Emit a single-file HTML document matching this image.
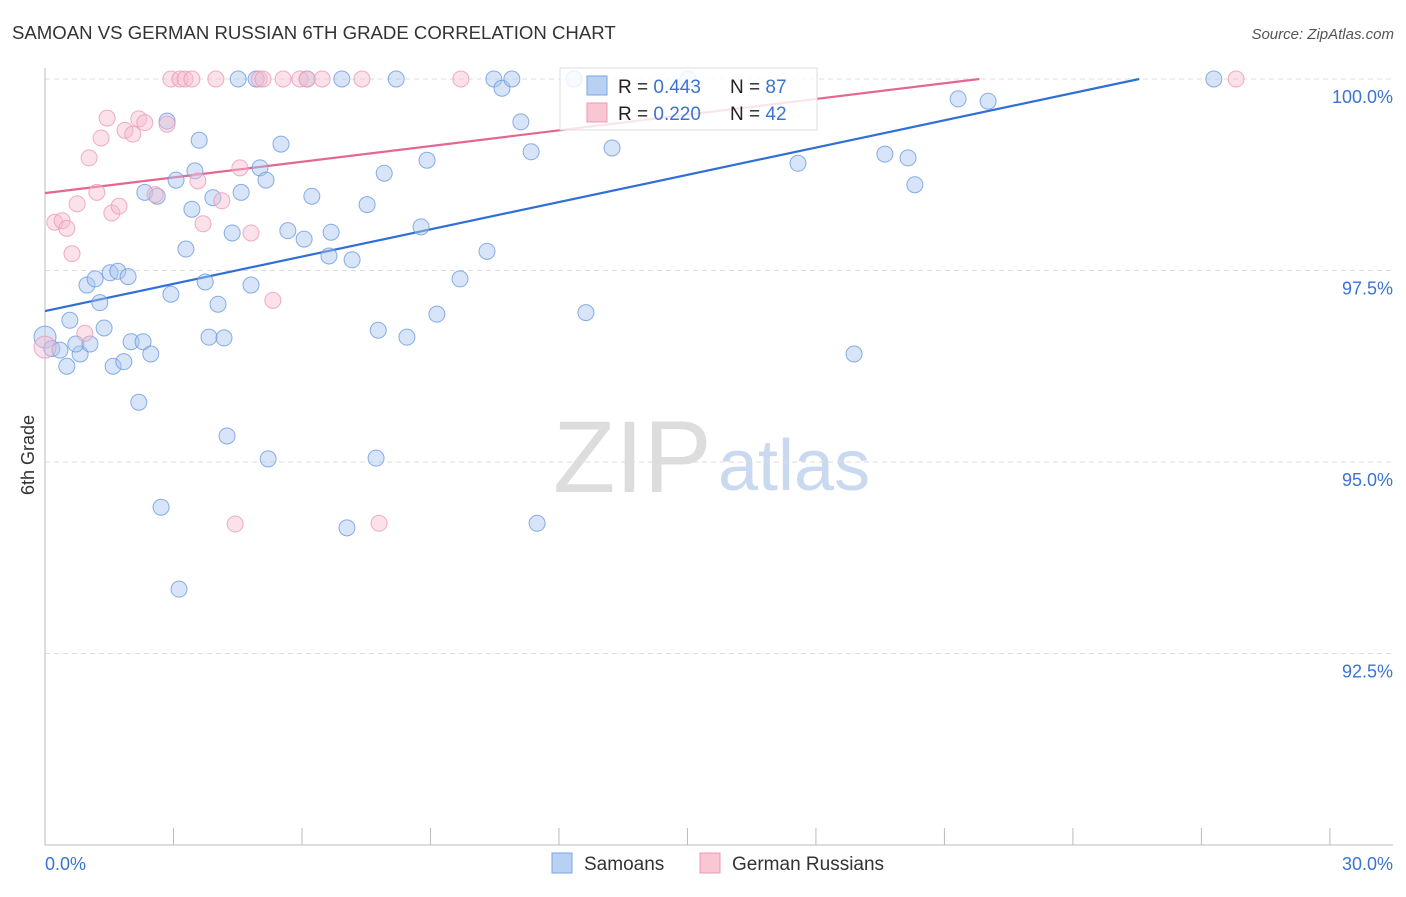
<!DOCTYPE html>
<html><head><meta charset="utf-8"><style>
body{margin:0;background:#fff;font-family:"Liberation Sans",sans-serif;}
svg text{font-family:"Liberation Sans",sans-serif;}
</style></head><body>
<svg id="chart" width="1406" height="892" xmlns="http://www.w3.org/2000/svg">
<text x="12" y="39" font-size="18.6" fill="#333">SAMOAN VS GERMAN RUSSIAN 6TH GRADE CORRELATION CHART</text>
<text x="1394" y="39" font-size="15" fill="#555" font-style="italic" text-anchor="end">Source: ZipAtlas.com</text>
<text transform="translate(34,455) rotate(-90)" font-size="18" fill="#333" text-anchor="middle">6th Grade</text>
<g><text x="553" y="492" font-size="102" fill="#ddd" font-family="Liberation Serif">ZIP</text><text x="718" y="490" font-size="72" fill="#c9d9f0">atlas</text></g>
<g id="grid"></g><g id="axes"></g><g id="lines"></g><g id="pts"></g>
<g>
<rect x="560" y="68" width="257" height="62" fill="#fff" fill-opacity="0.82" stroke="#ddd"/>
<rect x="587" y="76" width="20" height="19" fill="#b8d1f3" stroke="#7aa6e6"/>
<rect x="587" y="103" width="20" height="19" fill="#f9c6d4" stroke="#ee9ab2"/>
<text x="618" y="93" font-size="19" fill="#222">R = <tspan fill="#3a74d0">0.443</tspan></text>
<text x="730" y="93" font-size="19" fill="#222">N = <tspan fill="#3a74d0">87</tspan></text>
<text x="618" y="120" font-size="19" fill="#222">R = <tspan fill="#3a74d0">0.220</tspan></text>
<text x="730" y="120" font-size="19" fill="#222">N = <tspan fill="#3a74d0">42</tspan></text>
</g>
<g>
<rect x="552" y="853" width="20" height="20" fill="#b8d1f3" stroke="#7aa6e6"/>
<text x="584" y="870" font-size="19" fill="#333">Samoans</text>
<rect x="700" y="853" width="20" height="20" fill="#f9c6d4" stroke="#ee9ab2"/>
<text x="732" y="870" font-size="19" fill="#333">German Russians</text>
</g>
</svg>
<script>
const yTicks=[100,97.5,95,92.5];
const yTickLabels=["100.0%","97.5%","95.0%","92.5%"];
const xEndLabels=["0.0%","30.0%"];
const samoanX=[0,0.16,0.35,0.51,0.58,0.82,0.72,1.05,0.98,1.17,1.28,1.38,1.52,1.70,1.94,1.59,1.84,2.19,2.01,2.29,2.47,2.33,2.62,2.71,2.85,2.94,3.06,3.13,3.29,3.43,3.50,3.60,3.74,3.83,3.92,4.04,4.18,4.25,4.37,4.51,4.58,4.81,4.93,5.02,5.16,5.21,5.51,5.67,6.05,6.12,6.23,6.63,6.68,6.93,7.05,7.17,7.52,7.73,7.78,7.92,8.20,8.45,8.78,8.92,9.15,9.69,10.32,10.48,10.67,10.90,11.11,11.35,11.49,12.35,12.63,13.24,15.01,17.58,18.89,19.61,20.15,20.31,21.32,22.02,27.29];
const samoanY=[96.63,96.48,96.46,96.25,96.85,96.41,96.54,96.54,97.31,97.39,97.08,96.75,97.47,97.49,97.42,96.25,96.31,95.78,96.57,96.57,96.41,98.52,98.47,94.41,99.45,97.19,98.68,93.34,97.78,98.30,98.80,99.20,97.35,96.63,98.45,97.06,96.62,95.34,97.99,100,98.52,97.31,100,98.84,98.68,95.04,99.15,98.02,97.91,100,98.47,97.69,98.0,100,94.14,97.64,98.36,95.05,96.72,98.77,100,96.63,98.07,98.94,96.93,97.39,97.75,100,99.88,100,99.44,99.05,94.2,100,96.95,99.10,100,98.90,96.41,99.02,98.97,98.62,99.74,99.71,100];
const germanX=[0,0.23,0.40,0.51,0.63,0.75,0.93,1.03,1.21,1.31,1.45,1.56,1.73,1.87,2.05,2.19,2.33,2.57,2.85,2.94,3.15,3.27,3.43,3.57,3.69,3.99,4.13,4.44,4.55,4.81,5.00,5.09,5.32,5.56,5.95,6.12,6.47,7.40,7.80,9.71,27.81];
const germanY=[96.5,98.13,98.15,98.05,97.72,98.37,96.68,98.97,98.52,99.23,99.49,98.25,98.34,99.33,99.28,99.48,99.43,98.49,99.41,100,100,100,100,98.67,98.11,100,98.41,94.19,98.84,97.99,100,100,97.11,100,100,100,100,100,94.2,100,100];
const samoanTrend=[96.97,0.1186];
const germanTrend=[98.51,0.0683];
const NS="http://www.w3.org/2000/svg";
const sx=v=>45+v*42.83, sy=v=>79+(100-v)*76.6;
function mk(p,t,a){const e=document.createElementNS(NS,t);for(const k in a)e.setAttribute(k,a[k]);document.getElementById(p).appendChild(e);return e;}
yTicks.forEach((t,i)=>{
 const l=mk('grid','line',{x1:45,x2:1393,y1:sy(t),y2:sy(t),stroke:'#ddd','stroke-dasharray':'5,4'});
 
 
 const tx=mk('grid','text',{x:1393,y:sy(t)+24,'font-size':18,fill:'#3a74d0','text-anchor':'end'});
 tx.textContent=yTickLabels[i];
 
 
});
const ax=mk('axes','line',{x1:45,x2:45,y1:68,y2:845,stroke:'#bbb'});


const bx=mk('axes','line',{x1:45,x2:1393,y1:845,y2:845,stroke:'#bbb'});


for(let i=1;i<=10;i++){const t=mk('axes','line',{x1:sx(i*3),x2:sx(i*3),y1:828,y2:845,stroke:'#bbb'});
 
 }
[[45,'start',0],[1393,'end',1]].forEach(([x,a,i])=>{const t=mk('axes','text',{x:x,y:870,'font-size':18,fill:'#3a74d0','text-anchor':a});t.textContent=xEndLabels[i];
 
 });
function trend(tr,col,name){const x2=Math.min(30,(100-tr[0])/tr[1]);
 const l=mk('lines','line',{x1:sx(0),y1:sy(tr[0]),x2:sx(x2),y2:sy(tr[0]+tr[1]*x2),stroke:col,'stroke-width':2.2});
 
 }
trend(samoanTrend,'#2f6fd6','samoan-trendline');
trend(germanTrend,'#e5678f','german-russian-trendline');
function pts(X,Y,f,s,name){X.forEach((x,i)=>{const c=mk('pts','circle',{cx:sx(x),cy:sy(Y[i]),r:i==0?11:8,fill:f,'fill-opacity':0.45,stroke:s,'stroke-opacity':0.8});
 
 });}
pts(samoanX,samoanY,'#a9c6f0','#6d9ae0','samoan-point');
pts(germanX,germanY,'#f7bcd0','#ec9ab5','german-russian-point');
</script>
</body></html>
